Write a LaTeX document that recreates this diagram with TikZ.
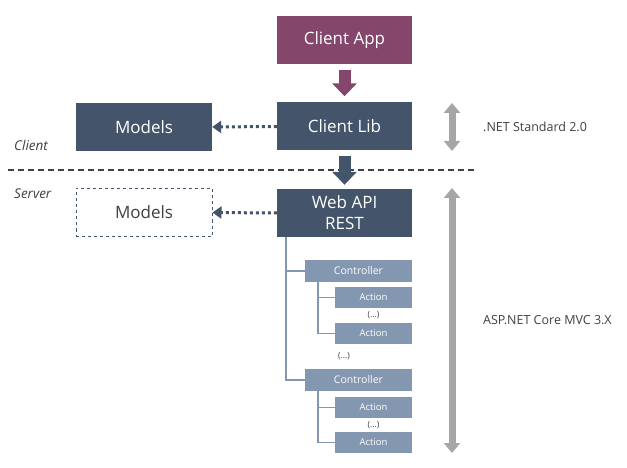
\documentclass[tikz,border=0pt]{standalone}
\usepackage{fontspec}
\setmainfont{Open Sans}
\usetikzlibrary{arrows.meta}
\definecolor{appc}{HTML}{84466A}
\definecolor{slate}{HTML}{44546A}
\definecolor{light}{HTML}{8497B0}
\definecolor{grayarr}{HTML}{A6A6A6}
\definecolor{txt}{HTML}{404040}
\tikzset{
  bigbox/.style={draw=none, fill=slate, text=white, minimum width=135pt, minimum height=48pt, inner sep=0pt, font=\fontsize{17}{21}\selectfont, align=center},
  dashbox/.style={draw=slate, dashed, line width=1pt, fill=white, text=txt, minimum width=135pt, minimum height=48pt, inner sep=0pt, font=\fontsize{17}{21}\selectfont},
  ctrlbox/.style={fill=light, text=white, minimum width=107pt, minimum height=22pt, inner sep=0pt, font=\fontsize{10.5}{12}\selectfont},
  actbox/.style={fill=light, text=white, minimum width=77pt, minimum height=21pt, inner sep=0pt, font=\fontsize{9.5}{11}\selectfont},
  blockarrow/.style={line width=12pt, -{Triangle[length=13pt, width=24pt]}},
  dotarrow/.style={draw=slate, line width=3pt, dash pattern=on 3pt off 3pt, -{Triangle[length=9pt, width=12pt]}},
  grayarrow/.style={draw=grayarr, line width=7pt, {Triangle[length=10pt, width=16pt]}-{Triangle[length=10pt, width=16pt]}},
  tree/.style={draw=light, line width=1.5pt},
  side/.style={text=txt, font=\fontsize{12.5}{14}\selectfont, anchor=west, inner sep=0pt},
  zone/.style={text=txt, font=\itshape\fontsize{13.5}{15}\selectfont, anchor=west, inner sep=0pt},
  dots/.style={text=txt, font=\fontsize{8.5}{10}\selectfont, inner sep=0pt}
}
\begin{document}
\begin{tikzpicture}[x=1pt,y=-1pt]
\useasboundingbox[fill=white] (0,0) rectangle (627,468);
% main boxes
\node[bigbox, fill=appc] (capp) at (344.5,40) {Client App};
\node[bigbox] (clib) at (344.5,126.5) {Client Lib};
\node[bigbox, minimum width=136pt] (models1) at (144,127) {Models};
\node[bigbox] (webapi) at (344.5,213) {Web API\\REST};
\node[dashbox, minimum width=136pt] (models2) at (144,212.5) {Models};
% separator
\coordinate (sepL) at (8,170);
\coordinate (sepR) at (476,170);
\draw[txt, line width=1.2pt, dash pattern=on 6pt off 4pt] (sepL) -- (sepR);
\node[zone] (client) at (14,145) {Client};
\node[zone] (server) at (14,194) {Server};
% block arrows
\draw[blockarrow, draw=appc, shorten <=6pt, shorten >=6pt] (capp) -- (clib);
\draw[blockarrow, draw=slate, shorten <=5pt, shorten >=4pt] (clib) -- (webapi);
% dotted arrows
\draw[dotarrow] (clib.west) -- (models1.east);
\draw[dotarrow] (webapi.west) -- (models2.east);
% tree
\node[ctrlbox] (ctrl1) at (358.5,271) {Controller};
\node[actbox] (act1) at (373.5,297.5) {Action};
\node[dots] (d1) at (373.5,315.5) {(...)};
\node[actbox] (act2) at (373.5,333.5) {Action};
\node[dots] (d2) at (344,356) {(...)};
\node[ctrlbox] (ctrl2) at (358.5,380) {Controller};
\node[actbox] (act3) at (373.5,407.5) {Action};
\node[dots] (d3) at (373.5,425) {(...)};
\node[actbox] (act4) at (373.5,442.5) {Action};
\coordinate (t0) at (286,237);
\draw[tree] (t0) |- (ctrl1.west);
\draw[tree] (t0) |- (ctrl2.west);
\coordinate (c1) at (318,282);
\draw[tree] (c1) |- (act1.west);
\draw[tree] (c1) |- (act2.west);
\coordinate (c2) at (318,391);
\draw[tree] (c2) |- (act3.west);
\draw[tree] (c2) |- (act4.west);
% side arrows
\coordinate (g1a) at (452,103);
\coordinate (g1b) at (452,151);
\coordinate (g2a) at (452,188);
\coordinate (g2b) at (452,453);
\draw[grayarrow] (g1a) -- (g1b);
\draw[grayarrow] (g2a) -- (g2b);
\node[side] (net) at (483,127) {.NET Standard 2.0};
\node[side] (asp) at (483,320) {ASP.NET Core MVC 3.X};
\end{tikzpicture}
\end{document}
